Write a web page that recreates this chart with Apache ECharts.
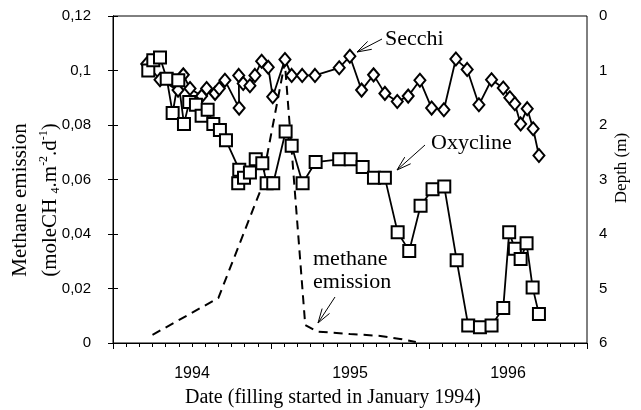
<!DOCTYPE html>
<html>
<head>
<meta charset="utf-8">
<script src="https://cdn.jsdelivr.net/npm/echarts@6/dist/echarts.min.js"></script>
<style>
  html, body { margin: 0; padding: 0; background: #fff; }
  #chart { width: 641px; height: 410px; }
</style>
</head>
<body>
<div id="chart"></div>
<script>
// months counted from January 1994
var yearLabels = { 6: '1994', 18: '1995', 30: '1996' };

var methaneMonth = [3.0, 8.0, 11.2, 13.05, 14.6, 15.5, 18.0, 20.3, 21.8, 23.0];
var methaneValue = [0.003, 0.0165, 0.056, 0.103, 0.0066, 0.0042, 0.0033, 0.0026, 0.0015, 0.0004];

var secchiMonth = [2.56, 3.57, 4.94, 5.34, 5.85, 6.73, 7.11, 7.75, 8.07, 8.50, 9.58, 9.55, 9.89, 10.40, 10.78,
                   11.29, 11.79, 12.13, 13.06, 13.57, 14.37, 15.34, 17.18, 17.99, 18.88, 19.79, 20.65, 21.59,
                   22.42, 23.31, 24.20, 25.13, 26.04, 26.90, 27.79, 28.75, 29.64, 30.14, 30.52, 30.96, 31.46,
                   31.91, 32.35];
var secchiDepth = [0.88, 1.17, 1.36, 1.08, 1.33, 1.47, 1.33, 1.42, 1.33, 1.18, 1.69, 1.09, 1.24, 1.28, 1.09,
                   0.83, 0.94, 1.48, 0.80, 1.09, 1.09, 1.09, 0.95, 0.74, 1.36, 1.08, 1.42, 1.57,
                   1.47, 1.18, 1.69, 1.72, 0.79, 0.98, 1.63, 1.17, 1.32, 1.50, 1.61, 1.98, 1.70,
                   2.07, 2.56];

var oxyMonth = [2.68, 3.06, 3.57, 4.08, 4.53, 4.96, 5.39, 5.79, 6.30, 6.73, 7.19, 7.62, 8.12, 8.58, 9.59,
                9.51, 9.95, 10.40, 10.84, 11.34, 11.67, 12.17, 13.11, 13.57, 14.40, 15.39, 17.18, 18.05,
                18.96, 19.82, 20.65, 21.62, 22.50, 23.36, 24.27, 25.16, 26.10, 26.98, 27.87, 28.75, 29.64,
                30.09, 30.52, 30.96, 31.41, 31.87, 32.35];
var oxyDepth = [1.00, 0.81, 0.76, 1.15, 1.78, 1.18, 1.98, 1.58, 1.63, 1.83, 1.72, 1.98, 2.09, 2.28, 2.82,
                3.07, 2.97, 2.87, 2.63, 2.70, 3.07, 3.07, 2.12, 2.38, 3.07, 2.68, 2.63, 2.63,
                2.77, 2.97, 2.97, 3.97, 4.31, 3.48, 3.18, 3.13, 4.48, 5.68, 5.71, 5.68, 5.36,
                3.97, 4.27, 4.46, 4.17, 4.98, 5.47];

function pairs(xs, ys) {
  return xs.map(function (x, i) { return [x, ys[i]]; });
}

var serif = 'Liberation Serif';
var sans = 'Liberation Sans';

// open arrow: shaft from tail to tip plus two barbs
function arrow(tip, tail) {
  var ang = Math.atan2(tail[1] - tip[1], tail[0] - tip[0]);
  var len = 15, spread = 0.3;
  var b1 = [tip[0] + len * Math.cos(ang + spread), tip[1] + len * Math.sin(ang + spread)];
  var b2 = [tip[0] + len * Math.cos(ang - spread), tip[1] + len * Math.sin(ang - spread)];
  var st = { stroke: '#000', lineWidth: 1, fill: null };
  return [
    { type: 'polyline', shape: { points: [tail, tip] }, style: st },
    { type: 'polyline', shape: { points: [b1, tip, b2] }, style: st }
  ];
}

var chart = echarts.init(document.getElementById('chart'));

var graphics = [
  { type: 'text', x: 20, y: 200, rotation: Math.PI / 2,
    style: { text: 'Methane emission', font: '21px ' + serif, fill: '#000', align: 'center', verticalAlign: 'middle' } },
  { type: 'text', x: 50, y: 200, rotation: Math.PI / 2,
    style: { text: '(moleCH {sub|4}.m{sup|-2}.d{sup|-1})', font: '21px ' + serif, fill: '#000',
             align: 'center', verticalAlign: 'middle',
             rich: { sub: { fontSize: 12, fontFamily: serif, verticalAlign: 'bottom', lineHeight: 24 },
                     sup: { fontSize: 12, fontFamily: serif, verticalAlign: 'top', lineHeight: 24 } } } },
  { type: 'text', x: 622, y: 168, rotation: Math.PI / 2,
    style: { text: 'Depth (m)', font: '17px ' + serif, fill: '#000', align: 'center', verticalAlign: 'middle' } },
  { type: 'text', x: 333, y: 398,
    style: { text: 'Date (filling started in January 1994)', font: '20px ' + serif, fill: '#000', align: 'center', verticalAlign: 'middle' } },
  { type: 'text', x: 385, y: 39,
    style: { text: 'Secchi', font: '22px ' + serif, fill: '#000', align: 'left', verticalAlign: 'middle' } },
  { type: 'text', x: 431, y: 143,
    style: { text: 'Oxycline', font: '22px ' + serif, fill: '#000', align: 'left', verticalAlign: 'middle' } },
  { type: 'text', x: 313, y: 259,
    style: { text: 'methane', font: '22px ' + serif, fill: '#000', align: 'left', verticalAlign: 'middle' } },
  { type: 'text', x: 313, y: 282,
    style: { text: 'emission', font: '22px ' + serif, fill: '#000', align: 'left', verticalAlign: 'middle' } }
].concat(arrow([357, 52], [382, 39]))
 .concat(arrow([397, 170], [425, 145]))
 .concat(arrow([318, 323], [335, 297]));

var option = {
  animation: false,
  backgroundColor: '#fff',
  grid: { left: 113, right: 54, top: 16, bottom: 67, show: true, borderColor: '#000', borderWidth: 1 },
  xAxis: [
    {
      type: 'value', min: 0, max: 36, interval: 12,
      axisLine: { show: true, onZero: false, lineStyle: { color: '#000', width: 1 } },
      axisTick: { show: true, length: 6, lineStyle: { color: '#000' } },
      minorTick: { show: true, splitNumber: 12, length: 4, lineStyle: { color: '#000' } },
      axisLabel: { show: false },
      splitLine: { show: false }
    },
    {
      type: 'value', min: 0, max: 36, interval: 6, position: 'bottom',
      axisLine: { show: false },
      axisTick: { show: false },
      splitLine: { show: false },
      axisLabel: {
        margin: 23, fontFamily: sans, fontSize: 16, color: '#000',
        formatter: function (v) { return yearLabels[v] || ''; }
      }
    }
  ],
  yAxis: [
    {
      type: 'value', position: 'left', min: 0, max: 0.12, interval: 0.02,
      axisLine: { show: true, lineStyle: { color: '#000', width: 1 } },
      axisTick: { show: true, length: 5, lineStyle: { color: '#000' } },
      splitLine: { show: false },
      axisLabel: {
        margin: 22, fontFamily: sans, fontSize: 15, color: '#000',
        formatter: function (v) { return String(Math.round(v * 100) / 100).replace('.', ','); }
      }
    },
    {
      type: 'value', position: 'right', min: 0, max: 6, interval: 1, inverse: true,
      axisLine: { show: true, lineStyle: { color: '#000', width: 1 } },
      axisTick: { show: true, length: 5, lineStyle: { color: '#000' } },
      splitLine: { show: false },
      axisLabel: { margin: 12, fontFamily: sans, fontSize: 15, color: '#000' }
    }
  ],
  series: [
    {
      name: 'methane emission', type: 'line', xAxisIndex: 0, yAxisIndex: 0,
      data: pairs(methaneMonth, methaneValue),
      symbol: 'none',
      lineStyle: { color: '#000', width: 2, type: [9, 6] }
    },
    {
      name: 'Secchi', type: 'line', xAxisIndex: 0, yAxisIndex: 1,
      data: pairs(secchiMonth, secchiDepth),
      symbol: 'diamond', symbolSize: [11, 13],
      itemStyle: { color: '#fff', borderColor: '#000', borderWidth: 2 },
      lineStyle: { color: '#000', width: 1.8 }
    },
    {
      name: 'Oxycline', type: 'line', xAxisIndex: 0, yAxisIndex: 1,
      data: pairs(oxyMonth, oxyDepth),
      symbol: 'rect', symbolSize: 12,
      itemStyle: { color: '#fff', borderColor: '#000', borderWidth: 2 },
      lineStyle: { color: '#000', width: 1.8 }
    }
  ],
  graphic: graphics
};

chart.setOption(option);
</script>
</body>
</html>
